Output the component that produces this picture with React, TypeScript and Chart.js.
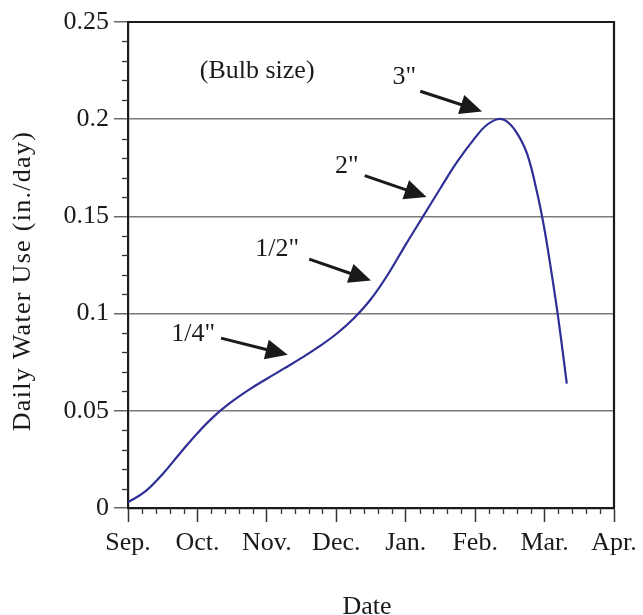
import React, { useEffect, useRef } from "react";
import { Chart, registerables } from "chart.js";

Chart.register(...registerables);

// ---- data ----
const monthLabels = ["Sep.", "Oct.", "Nov.", "Dec.", "Jan.", "Feb.", "Mar.", "Apr."];
// months since Sep. 1
const monthsSinceSep = [
  0, 0.25, 0.5, 0.75, 1.0, 1.25, 1.5, 1.75, 2.0, 2.25, 2.5, 2.75, 3.0, 3.25, 3.5, 3.75,
  4.0, 4.25, 4.5, 4.75, 5.0, 5.15, 5.32, 5.45, 5.6, 5.75, 5.9, 6.0, 6.1, 6.2, 6.32,
];
// daily water use (in./day)
const dailyWaterUse = [
  0.003, 0.0085, 0.0175, 0.0282, 0.0385, 0.0475, 0.0548, 0.061, 0.0665, 0.0718, 0.0772, 0.083,
  0.0895, 0.0975, 0.1075, 0.1205, 0.1355, 0.15, 0.1645, 0.1785, 0.1905, 0.1965, 0.2, 0.199,
  0.193, 0.182, 0.161, 0.143, 0.121, 0.097, 0.064,
];
const yTickStep = 0.05;
const yMax = 0.25;

// annotations (text + arrow in data coordinates)
const bulbTitle = "(Bulb size)";
const bulbSizeLabels = ['1/4"', '1/2"', '2"', '3"'];
const labelCenters: [number, number][] = [
  [0.94, 0.0896],
  [2.15, 0.133],
  [3.15, 0.176],
  [3.98, 0.2215],
];
const arrowStarts: [number, number][] = [
  [1.34, 0.0874],
  [2.61, 0.128],
  [3.41, 0.171],
  [4.21, 0.2144],
];
const arrowTips: [number, number][] = [
  [2.3, 0.0788],
  [3.5, 0.117],
  [4.3, 0.16],
  [5.1, 0.204],
];
const bulbTitleCenter: [number, number] = [1.86, 0.2245];

const FONT = '"Liberation Serif", "Times New Roman", serif';
const FS = 26;

const decorPlugin = {
  id: "decor",
  beforeDatasetsDraw(chart: any) {
    const { ctx, chartArea, scales } = chart;
    const x = scales.x;
    const y = scales.y;
    ctx.save();
    ctx.strokeStyle = "#333";
    ctx.lineWidth = 1.3;
    for (let i = 0; i <= 35; i++) {
      if (i % 5 === 0) continue;
      const px = Math.round(x.getPixelForValue(i / 5)) + 0.5;
      ctx.beginPath();
      ctx.moveTo(px, chartArea.bottom);
      ctx.lineTo(px, chartArea.bottom + 6);
      ctx.stroke();
    }
    for (let i = 0; i <= 25; i++) {
      if (i % 5 === 0) continue;
      const py = Math.round(y.getPixelForValue(i / 100)) + 0.5;
      ctx.beginPath();
      ctx.moveTo(chartArea.left, py);
      ctx.lineTo(chartArea.left - 6, py);
      ctx.stroke();
    }
    ctx.restore();
  },
  afterDatasetsDraw(chart: any) {
    const { ctx, chartArea, scales } = chart;
    const x = scales.x;
    const y = scales.y;
    ctx.save();
    ctx.strokeStyle = "#1a1a1a";
    ctx.lineWidth = 2.2;
    ctx.beginPath();
    ctx.moveTo(chartArea.left, chartArea.top);
    ctx.lineTo(chartArea.right, chartArea.top);
    ctx.lineTo(chartArea.right, chartArea.bottom);
    ctx.stroke();

    ctx.fillStyle = "#1a1a1a";
    ctx.font = `${FS}px ${FONT}`;
    ctx.textAlign = "center";
    ctx.textBaseline = "middle";
    ctx.fillText(bulbTitle, x.getPixelForValue(bulbTitleCenter[0]), y.getPixelForValue(bulbTitleCenter[1]));
    bulbSizeLabels.forEach((t, i) => {
      ctx.fillText(t, x.getPixelForValue(labelCenters[i][0]), y.getPixelForValue(labelCenters[i][1]));
      const sx = x.getPixelForValue(arrowStarts[i][0]);
      const sy = y.getPixelForValue(arrowStarts[i][1]);
      const tx = x.getPixelForValue(arrowTips[i][0]);
      const ty = y.getPixelForValue(arrowTips[i][1]);
      const ang = Math.atan2(ty - sy, tx - sx);
      const hl = 22;
      const hw = 10;
      const bx = tx - hl * Math.cos(ang);
      const by = ty - hl * Math.sin(ang);
      ctx.strokeStyle = "#1a1a1a";
      ctx.lineWidth = 3;
      ctx.beginPath();
      ctx.moveTo(sx, sy);
      ctx.lineTo(bx + 2 * Math.cos(ang), by + 2 * Math.sin(ang));
      ctx.stroke();
      ctx.beginPath();
      ctx.moveTo(tx, ty);
      ctx.lineTo(bx + hw * Math.sin(ang), by - hw * Math.cos(ang));
      ctx.lineTo(bx - hw * Math.sin(ang), by + hw * Math.cos(ang));
      ctx.closePath();
      ctx.fill();
    });

    ctx.font = `${FS}px ${FONT}`;
    ctx.textAlign = "center";
    ctx.textBaseline = "alphabetic";
    ctx.fillText("Date", 367, 614);
    ctx.translate(30, 281);
    ctx.rotate(-Math.PI / 2);
    (ctx as any).letterSpacing = "1.3px";
    ctx.fillText("Daily Water Use (in./day)", 0, 0);
    ctx.restore();
  },
};

export default function App() {
  const ref = useRef<HTMLCanvasElement | null>(null);
  useEffect(() => {
    document.body.style.margin = "0";
    if (!ref.current) return;
    const chart = new Chart(ref.current, {
      type: "line",
      data: {
        datasets: [
          {
            data: monthsSinceSep.map((m, i) => ({ x: m, y: dailyWaterUse[i] })),
            borderColor: "#2e2f96",
            borderWidth: 2.2,
            pointRadius: 0,
            tension: 0.4,
            fill: false,
          },
        ],
      },
      options: {
        animation: false,
        responsive: false,
        devicePixelRatio: 1,
        layout: { padding: { top: 22, right: 29, left: 0, bottom: 0 } },
        plugins: { legend: { display: false }, tooltip: { enabled: false } },
        scales: {
          x: {
            type: "linear",
            min: 0,
            max: monthLabels.length - 1,
            afterFit: (s: any) => {
              s.height = 107;
            },
            ticks: {
              stepSize: 1,
              autoSkip: false,
              maxRotation: 0,
              padding: 6,
              color: "#1a1a1a",
              font: { family: FONT, size: FS },
              callback: (v: any) => monthLabels[Math.round(Number(v))] ?? "",
            },
            grid: { drawOnChartArea: false, drawTicks: true, tickLength: 14, tickColor: "#333", tickWidth: 1.5 },
            border: { display: true, color: "#1a1a1a", width: 2.2 },
          },
          y: {
            min: 0,
            max: yMax,
            afterFit: (s: any) => {
              s.width = 128;
            },
            ticks: {
              stepSize: yTickStep,
              padding: 5,
              color: "#1a1a1a",
              font: { family: FONT, size: FS },
              callback: (v: any) => String(parseFloat(Number(v).toFixed(2))),
            },
            grid: { color: "#7a7a7a", lineWidth: 1.5, tickLength: 14, tickColor: "#666", tickWidth: 1.5 },
            border: { display: true, color: "#1a1a1a", width: 2.2 },
          },
        },
      },
      plugins: [decorPlugin],
    });
    return () => chart.destroy();
  }, []);
  return <canvas ref={ref} width={643} height={615} style={{ display: "block" }} />;
}
